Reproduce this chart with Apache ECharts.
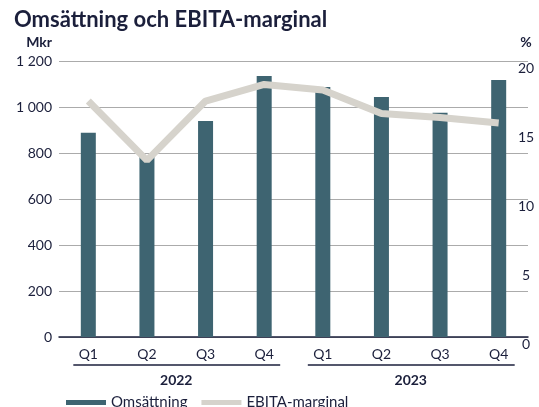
<!DOCTYPE html>
<html>
<head>
<meta charset="utf-8">
<script src="https://cdn.jsdelivr.net/npm/echarts@6/dist/echarts.min.js"></script>
<style>
  html, body { margin: 0; padding: 0; background: #fff; }
  #chart { width: 539px; height: 407px; }
</style>
</head>
<body>
<div id="chart"></div>
<script>
// data
const quarters = ["Q1", "Q2", "Q3", "Q4", "Q1", "Q2", "Q3", "Q4"];
const years = ["2022", "2023"];
const omsattning = [888, 785, 939, 1135, 1087, 1043, 975, 1117];
const ebitaMarginal = [17.1, 12.8, 17.1, 18.3, 17.9, 16.2, 15.9, 15.5];
const leftTicks = { min: 0, max: 1200, interval: 200 };
const rightTicks = { min: 0, max: 20, interval: 5 };

const navy = "#1b1f3b";
const barColor = "#3e6471";
const lineColor = "#d6d3cc";
const font = "Lato";

const chart = echarts.init(document.getElementById("chart"));

function thousands(v) {
  return String(v).replace(/\B(?=(\d{3})+$)/g, " ");
}

const option = {
  animation: false,
  textStyle: { fontFamily: font, color: navy },
  title: {
    text: "Omsättning och EBITA-marginal",
    left: 9,
    top: 4,
    textStyle: { fontFamily: font, fontSize: 22, fontWeight: "bold", color: navy }
  },
  grid: { left: 59, right: 11, top: 61, bottom: 70 },
  legend: {
    left: 61,
    top: 390,
    itemWidth: 40,
    itemHeight: 5,
    itemGap: 14,
    textStyle: { fontFamily: font, fontSize: 15, color: navy },
    data: [
      { name: "Omsättning", icon: "rect" },
      { name: "EBITA-marginal", icon: "rect" }
    ]
  },
  xAxis: [
    {
      type: "category",
      data: quarters,
      axisLine: { lineStyle: { color: navy, width: 1.5 } },
      axisTick: { show: false },
      axisLabel: { color: navy, fontSize: 14, margin: 10, fontFamily: font }
    },
    {
      type: "category",
      data: years,
      position: "bottom",
      offset: 30,
      axisLine: { show: false },
      axisTick: { show: false },
      axisLabel: { color: navy, fontSize: 14, fontWeight: "bold", margin: 6, fontFamily: font }
    }
  ],
  yAxis: [
    {
      type: "value",
      min: leftTicks.min,
      max: leftTicks.max,
      interval: leftTicks.interval,
      name: "Mkr",
      nameGap: 12,
      nameTextStyle: { align: "right", verticalAlign: "bottom", fontSize: 14, fontWeight: "bold", color: navy, padding: [0, 7, 0, 0], fontFamily: font },
      axisLine: { show: false },
      axisTick: { show: false },
      axisLabel: {
        color: navy, fontSize: 14, margin: 7, fontFamily: font,
        padding: [6, 0, 0, 0],
        formatter: thousands
      },
      splitLine: { lineStyle: { color: "#ababab", width: 1 } }
    },
    {
      type: "value",
      min: rightTicks.min,
      max: rightTicks.max,
      interval: rightTicks.interval,
      name: "%",
      nameGap: 12,
      nameTextStyle: { align: "center", verticalAlign: "bottom", fontSize: 14, fontWeight: "bold", color: navy, padding: [0, 4, 0, 0], fontFamily: font },
      axisLine: { show: false },
      axisTick: { show: false },
      axisLabel: { color: navy, fontSize: 14, margin: -2, align: "center", verticalAlign: "top", fontFamily: font },
      splitLine: { show: false }
    }
  ],
  series: [
    {
      name: "Omsättning",
      type: "bar",
      data: omsattning,
      barWidth: 15,
      itemStyle: { color: barColor }
    },
    {
      name: "EBITA-marginal",
      type: "line",
      yAxisIndex: 1,
      data: ebitaMarginal,
      symbol: "none",
      z: 5,
      itemStyle: { color: lineColor },
      lineStyle: { color: lineColor, width: 7 }
    }
  ]
};

chart.setOption(option);

// brackets under the quarter labels, one per year
const brackets = years.map(function (y, i) {
  const x1 = chart.convertToPixel({ xAxisIndex: 0 }, i * 4) - 15;
  const x2 = chart.convertToPixel({ xAxisIndex: 0 }, i * 4 + 3) + 16;
  return {
    type: "line",
    shape: { x1: x1, y1: 365, x2: x2, y2: 365 },
    style: { stroke: navy, lineWidth: 1.5 }
  };
});
chart.setOption({ graphic: brackets });
</script>
</body>
</html>
